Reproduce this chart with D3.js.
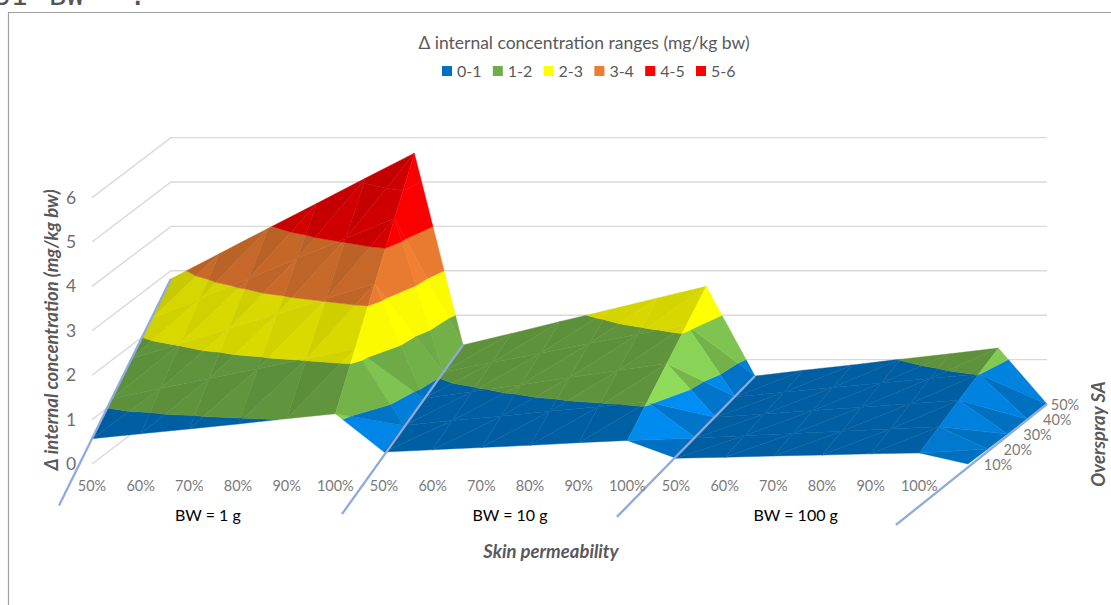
<!DOCTYPE html>
<html>
<head>
<meta charset="utf-8">
<script src="https://cdn.jsdelivr.net/npm/d3@7"></script>
<style>
    body { margin: 0; background: #fff; }
    svg { display: block; }
    text { font-family: Lato, "Open Sans", sans-serif; }
</style>
</head>
<body>
<div id="chart"></div>
<script>
// Category labels along the front of the surface (the last point closes the surface, no label)
const permeability = ["50%", "60%", "70%", "80%", "90%", "100%",
                      "50%", "60%", "70%", "80%", "90%", "100%",
                      "50%", "60%", "70%", "80%", "90%", "100%", ""];
const overspray = ["10%", "20%", "30%", "40%", "50%"];
const bodyWeights = ["BW = 1 g", "BW = 10 g", "BW = 100 g"];
const bodyWeightCentres = [2.38, 8.59, 14.46];
const zTicks = [0, 1, 2, 3, 4, 5, 6];

// Delta internal concentration (mg/kg bw), one array per overspray level
const overspray10 = [0.57, 0.68, 0.79, 0.90, 1.02, 1.13, 0.27, 0.32, 0.37, 0.42, 0.48, 0.53, 0.13, 0.15, 0.18, 0.20, 0.23, 0.25, 0];
const overspray20 = [1.13, 1.36, 1.58, 1.81, 2.03, 2.26, 0.53, 0.64, 0.74, 0.85, 0.95, 1.06, 0.25, 0.30, 0.35, 0.40, 0.45, 0.50, 0];
const overspray30 = [1.70, 2.03, 2.37, 2.71, 3.05, 3.39, 0.80, 0.95, 1.11, 1.27, 1.43, 1.59, 0.38, 0.45, 0.53, 0.60, 0.68, 0.76, 0];
const overspray40 = [2.26, 2.71, 3.16, 3.62, 4.07, 4.52, 1.06, 1.27, 1.48, 1.70, 1.91, 2.12, 0.50, 0.60, 0.71, 0.81, 0.91, 1.01, 0];
const overspray50 = [2.82, 3.39, 3.96, 4.52, 5.09, 5.65, 1.33, 1.59, 1.86, 2.12, 2.39, 2.65, 0.63, 0.76, 0.88, 1.01, 1.13, 1.26, 0];
const surface = [overspray10, overspray20, overspray30, overspray40, overspray50];

const bandLabels = ["0-1", "1-2", "2-3", "3-4", "4-5", "5-6"];
const bandColors = ["#0070C0", "#70AD47", "#FFFF00", "#ED7D31", "#FF0000", "#FF0000"];

// Guide lines running along the depth direction: category, how far they run out front, value there
const guideCats = [0, 6, 12, 18];
const guideFrontDepth = [-1.67, -2.13, -2.99, -3.65];
const guideFrontValue = [-0.37, -0.41, -0.18, -0.14];

const width = 1111, height = 605;

const svg = d3.select("#chart").append("svg")
    .attr("width", width)
    .attr("height", height);

// Oblique projection: each data axis gets its own screen scale
const xCat = d3.scaleLinear().domain([0, 18]).range([92, 968]);
const xDepth = d3.scaleLinear().domain([0, 4]).range([0, 79]);
const yDepth = d3.scaleLinear().domain([0, 4]).range([0, -60]);
const yValue = d3.scaleLinear().domain([0, 6]).range([464, 197.6]);

const px = d => xCat(d.c) + xDepth(d.s);
const py = d => yValue(d.z) + yDepth(d.s);
const polyPath = d3.line().x(px).y(py).curve(d3.curveLinearClosed);

// Chart frame (runs off the right and bottom of the page)
svg.append("path")
    .attr("d", `M8.5,${height} V12.5 H${width}`)
    .attr("fill", "none")
    .attr("stroke", "#a0a0a0")
    .attr("stroke-width", 1.2);

// Cropped caption line above the frame
const caption = svg.append("g")
    .attr("fill", "#555")
    .style("font-size", "29px");
[["S1", -7], ["BW", 49], [":", 129]].forEach(function(t) {
    caption.append("text")
        .text(t[0])
        .attr("x", t[1])
        .attr("y", 5)
        .style("font-family", "'DejaVu Sans Mono', monospace");
});

// Wall gridlines
const grid = svg.append("g")
    .attr("fill", "none")
    .attr("stroke", "#d9d9d9")
    .attr("stroke-width", 1.4);
zTicks.forEach(function(z) {
    grid.append("path")
        .attr("d", d3.line().x(px).y(py)([{c: 0, s: 0, z: z}, {c: 0, s: 4, z: z}, {c: 18, s: 4, z: z}]));
});

// Keep the part of a polygon on one side of a value level
function clipAbove(poly, level, keepAbove) {
    let out = [];
    poly.forEach(function(a, i) {
        let b = poly[(i + 1) % poly.length];
        let aIn = keepAbove ? a.z >= level : a.z <= level;
        let bIn = keepAbove ? b.z >= level : b.z <= level;
        if (aIn) out.push(a);
        if (aIn !== bIn) {
            let t = (level - a.z) / (b.z - a.z);
            out.push({c: a.c + t * (b.c - a.c), s: a.s + t * (b.s - a.s), z: level});
        }
    });
    return out;
}

// Facet brightness from its slope, lit from the front right.
// Facets dropping to the right (the steps between groups) stay at full colour or above.
function facetShade(tri) {
    let [a, b, d] = tri;
    let ux = b.c - a.c, uy = b.s - a.s, uz = b.z - a.z;
    let vx = d.c - a.c, vy = d.s - a.s, vz = d.z - a.z;
    let nc = (uy * vz - uz * vy), ns = (uz * vx - ux * vz), nz = (ux * vy - uy * vx);
    if (nz < 0) { nc = -nc; ns = -ns; nz = -nz; }
    let p = -nc / nz / 2, q = -ns / nz;
    let dot = (-p * 0.45 + q * 0.4 + 0.8) / Math.sqrt(1 + p * p + q * q);
    if (p < -0.1) return Math.max(1, 1 + (dot - 0.93) * 4 * Math.min(1, q / 0.3));
    if (dot < 0.8) return 0.84 + (dot - 0.8);
    if (dot > 0.88) return 0.84 + (dot - 0.88) * 1.5;
    return 0.84;
}

function shadeColor(base, f) {
    let c = d3.rgb(base);
    return d3.rgb(Math.min(255, c.r * f), Math.min(255, c.g * f), Math.min(255, c.b * f)).formatHex();
}

// Surface: two triangles per cell, cut into value bands, back rows first
const facets = [];
d3.range(3, -1, -1).forEach(function(s) {
    d3.range(permeability.length - 1).forEach(function(c) {
        let pt = (cc, ss) => ({c: cc, s: ss, z: surface[ss][cc]});
        let lower = [pt(c, s), pt(c + 1, s), pt(c + 1, s + 1)];
        let upper = [pt(c, s), pt(c + 1, s + 1), pt(c, s + 1)];
        [lower, upper].forEach(function(tri, k) {
            // Steeper cells show their diagonal more
            let rise = Math.min(1, Math.abs(surface[s + 1][c] - surface[s][c]));
            let shade = facetShade(tri) * (k === 0 ? 1 + 0.02 * rise : 1 - 0.02 * rise);
            bandColors.forEach(function(color, band) {
                let poly = clipAbove(clipAbove(tri, band, true), band + 1, false);
                if (poly.length > 2) facets.push({poly: poly, fill: shadeColor(color, shade)});
            });
        });
    });
});

svg.append("g")
    .selectAll("path")
    .data(facets)
    .join("path")
    .attr("d", d => polyPath(d.poly))
    .attr("fill", d => d.fill)
    .attr("stroke", d => d.fill)
    .attr("stroke-width", 0.4)
    .attr("stroke-linejoin", "round");

// Guide lines on top of the surface
svg.append("g")
    .selectAll("path")
    .data(guideCats)
    .join("path")
    .attr("d", function(c, i) {
        return d3.line().x(px).y(py)([
            {c: c, s: guideFrontDepth[i], z: guideFrontValue[i]},
            {c: c, s: 4, z: surface[4][c]}
        ]);
    })
    .attr("fill", "none")
    .attr("stroke", "#8faadc")
    .attr("stroke-width", 2.3);

// Value axis labels
svg.append("g")
    .selectAll("text")
    .data(zTicks)
    .join("text")
    .text(d => d)
    .attr("x", 71)
    .attr("y", d => yValue(d) + 6)
    .attr("text-anchor", "middle")
    .attr("fill", "#6f6f6f")
    .style("font-size", "17.5px");

// Category labels
svg.append("g")
    .selectAll("text")
    .data(permeability)
    .join("text")
    .text(d => d)
    .attr("x", (d, i) => xCat(i))
    .attr("y", 491)
    .attr("text-anchor", "middle")
    .attr("fill", "#7a7a7a")
    .style("font-size", "14.5px");

// Overspray labels follow the depth direction
svg.append("g")
    .selectAll("text")
    .data(overspray)
    .join("text")
    .text(d => d)
    .attr("x", (d, i) => xCat(18) + xDepth(i) + (i === 4 ? 18 : 30))
    .attr("y", (d, i) => yValue(0) + yDepth(i) + 6)
    .attr("text-anchor", "middle")
    .attr("fill", "#7a7a7a")
    .style("font-size", "14.5px");

// Body weight group labels
svg.append("g")
    .selectAll("text")
    .data(bodyWeights)
    .join("text")
    .text(d => d)
    .attr("x", (d, i) => xCat(bodyWeightCentres[i]))
    .attr("y", 521)
    .attr("text-anchor", "middle")
    .attr("fill", "#000")
    .style("font-size", "16px");

// Axis titles
const axisTitle = (label, x, y, rotate) => svg.append("text")
    .text(label)
    .attr("transform", `translate(${x},${y}) rotate(${rotate})`)
    .attr("text-anchor", "middle")
    .attr("fill", "#595959")
    .style("font-size", "18.5px")
    .style("font-weight", "bold")
    .style("font-style", "italic");
axisTitle("Δ internal concentration (mg/kg bw)", 58, 330, -90);
axisTitle("Overspray SA", 1105, 434, -90);
axisTitle("Skin permeability", 551, 558, 0);

// Legend title and keys
svg.append("text")
    .text("Δ internal concentration ranges (mg/kg bw)")
    .attr("x", 584)
    .attr("y", 49)
    .attr("text-anchor", "middle")
    .attr("fill", "#595959")
    .style("font-size", "17.5px");

const legendX = d3.scalePoint().domain(bandLabels).range([442, 696]);
const legend = svg.append("g");
bandLabels.forEach(function(label, i) {
    legend.append("rect")
        .attr("x", legendX(label))
        .attr("y", 66)
        .attr("width", 10)
        .attr("height", 10)
        .attr("fill", bandColors[i]);
    legend.append("text")
        .text(label)
        .attr("x", legendX(label) + 15)
        .attr("y", 76.5)
        .attr("fill", "#595959")
        .style("font-size", "16px");
});
</script>
</body>
</html>
